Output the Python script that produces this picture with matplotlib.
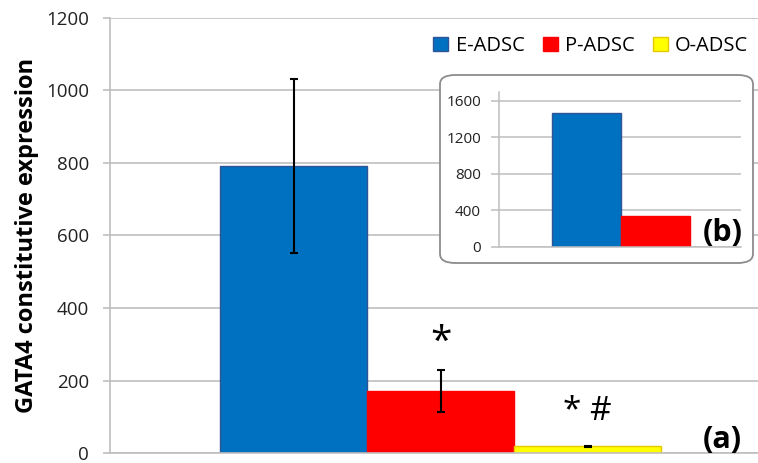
import matplotlib
matplotlib.use("Agg")
import matplotlib.pyplot as plt
from matplotlib.patches import FancyBboxPatch, Patch

plt.rcParams['font.family'] = ['Open Sans', 'DejaVu Sans']

# Main panel (a)
groups = ["E-ADSC", "P-ADSC", "O-ADSC"]
values = [792, 171, 18]
errors = [241, 59, 2]
colors = ["#0070C0", "#FF0000", "#FFFF00"]
edges = ["#2F5597", "#FF0000", "#E6C800"]
yticks = [0, 200, 400, 600, 800, 1000, 1200]

# Inset panel (b)
inset_groups = ["E-ADSC", "P-ADSC"]
inset_values = [1470, 335]
inset_yticks = [0, 400, 800, 1200, 1600]

W, H = 758, 463
fig = plt.figure(figsize=(W / 100, H / 100), dpi=100)

ax = fig.add_axes([110 / W, 1 - 453 / H, 648 / W, 435 / H])
pos = [-1, 0, 1]
ax.bar(pos, values, width=1.0, color=colors, edgecolor=edges, linewidth=1, zorder=2)
ax.errorbar(pos, values, yerr=errors, fmt='none', ecolor='black', elinewidth=1.5,
            capsize=3, capthick=1.5, zorder=3)
ax.set_xlim(-2.25, 2.16)
ax.set_ylim(0, 1200)
ax.set_yticks(yticks)
ax.set_yticklabels([str(v) for v in yticks], fontsize=13.5, color='#222222')
ax.set_xticks([])
ax.yaxis.grid(True, color='#BFBFBF', linewidth=1.2, zorder=0)
ax.set_axisbelow(True)
for s in ['top', 'right']:
    ax.spines[s].set_visible(False)
for s in ['left', 'bottom']:
    ax.spines[s].set_color('#BFBFBF')
    ax.spines[s].set_linewidth(1.2)
ax.tick_params(axis='y', length=5, color='#BFBFBF', width=1.2, pad=10)
ax.set_ylabel("GATA4 constitutive expression", fontsize=17, fontweight='bold', labelpad=5)

ax.text(0, values[1] + errors[1] + 22, "*", ha='center', va='bottom', fontsize=28, color='black')
ax.text(1, values[2] + errors[2] + 50, "* #", ha='center', va='bottom', fontsize=24, color='black')
ax.text(0.975, -0.005, "(a)", transform=ax.transAxes, ha='right', va='bottom',
        fontsize=22, fontweight='bold')

handles = [Patch(facecolor=c, edgecolor=e) for c, e in zip(colors, edges)]
fig.legend(handles, groups, loc='upper right', bbox_to_anchor=(1.0, 1 - 26 / H),
           ncol=3, frameon=False, fontsize=14.5, handlelength=0.75, handleheight=0.75,
           handletextpad=0.35, columnspacing=0.9, borderaxespad=0.1)

# Rounded frame around the inset
box = FancyBboxPatch((440 / W, 1 - 263 / H), 313 / W, 188 / H,
                     boxstyle="round,pad=0,rounding_size=0.02",
                     transform=fig.transFigure, facecolor='white',
                     edgecolor='#8C8C8C', linewidth=1.3, zorder=5)
fig.patches.append(box)

axi = fig.add_axes([499 / W, 1 - 246.7 / H, 242 / W, 155 / H], zorder=6)
axi.bar([0, 1], inset_values, width=1.0, color=colors[:2], edgecolor=edges[:2],
        linewidth=1, zorder=2)
axi.set_xlim(-1.26, 2.23)
axi.set_ylim(0, 1700)
axi.set_yticks(inset_yticks)
axi.set_yticklabels([str(v) for v in inset_yticks], fontsize=11, color='#222222')
axi.set_xticks([])
axi.yaxis.grid(True, color='#BFBFBF', linewidth=1.1, zorder=0)
axi.set_axisbelow(True)
axi.patch.set_alpha(0)
for s in ['top', 'right']:
    axi.spines[s].set_visible(False)
for s in ['left', 'bottom']:
    axi.spines[s].set_color('#BFBFBF')
    axi.spines[s].set_linewidth(1.1)
axi.tick_params(axis='y', length=6, color='#BFBFBF', width=1.1, pad=7)
axi.text(1.008, -0.01, "(b)", transform=axi.transAxes, ha='right', va='bottom',
         fontsize=22, fontweight='bold')

fig.savefig("out.png", dpi=100)
